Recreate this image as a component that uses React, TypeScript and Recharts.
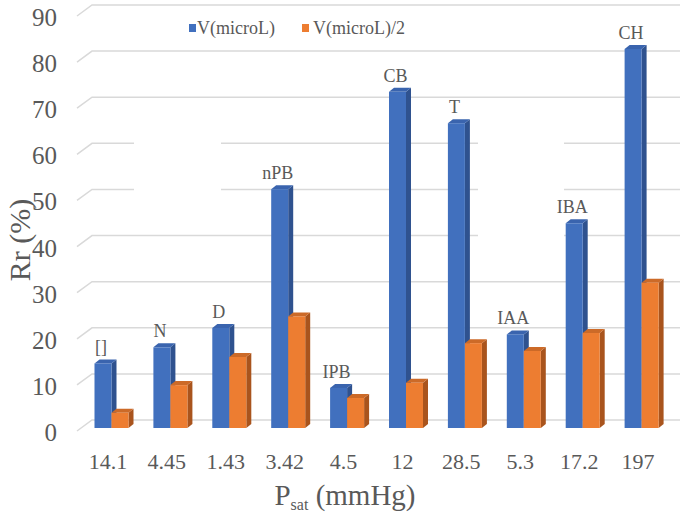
import React from 'react';
import { BarChart, Bar, XAxis, YAxis, CartesianGrid, LabelList, Legend, Label } from 'recharts';

const categories = ['14.1', '4.45', '1.43', '3.42', '4.5', '12', '28.5', '5.3', '17.2', '197'];
const compounds = ['[]', 'N', 'D', 'nPB', 'IPB', 'CB', 'T', 'IAA', 'IBA', 'CH'];
const vFull = [14, 17.5, 21.7, 51.8, 8.7, 72.9, 66.1, 20.3, 44.4, 82.2];
const vHalf = [3.3, 9.3, 15.4, 24.2, 6.5, 9.8, 18.4, 16.7, 20.6, 31.5];
const yTicks = [0, 10, 20, 30, 40, 50, 60, 70, 80, 90];
const seriesNames = ['V(microL)', 'V(microL)/2'];

const data = categories.map((c, i) => ({ psat: c, name: compounds[i], full: vFull[i], half: vHalf[i] }));

const FONT = '"Liberation Serif", "Times New Roman", serif';
const TXT = '#595959';
const GRID = '#D9D9D9';

const BLUE = { front: '#4170BE', side: '#2F528F', top: '#3A64AE' };
const ORANGE = { front: '#ED7D31', side: '#A9541D', top: '#CC6A28' };

const DX = 5;
const DY = 4;

const make3D = (c: { front: string; side: string; top: string }) => (props: any) => {
  const { x, y, width, height } = props;
  if (height == null || width == null) return <g />;
  const r = x + width;
  const b = y + height;
  return (
    <g>
      <path d={`M${r},${y} L${r + DX},${y - DY} L${r + DX},${b - DY} L${r},${b} Z`} fill={c.side} />
      <path d={`M${x},${y} L${x + DX},${y - DY} L${r + DX},${y - DY} L${r},${y} Z`} fill={c.top} />
      <rect x={x} y={y} width={width} height={height} fill={c.front} />
    </g>
  );
};

// white boxes in the original break some back-wall gridlines
const gaps: { from: number; to: number; values: number[] }[] = [
  { from: 134, to: 221, values: [50, 60] },
  { from: 478, to: 564, values: [40, 50, 60] },
];

const gridLine = (props: any) => {
  const { x1, y1, x2, index, key } = props;
  const v = yTicks[index];
  const yb = y1 - 8;
  const xs = x1 + 9.5;
  const xe = x2 + 8.5;
  let d = `M${x1 - 5.5},${y1 + 3} L${xs},${yb}`;
  gaps
    .filter((g) => g.values.includes(v))
    .forEach((g) => {
      d += ` L${g.from},${yb} M${g.to},${yb}`;
    });
  d += ` L${xe},${yb}`;
  return <path key={key ?? `g${index}`} d={d} stroke={GRID} strokeWidth={1.5} fill="none" />;
};

const YTick = (props: any) => {
  const { y, payload } = props;
  return (
    <text x={57} y={y + 4.5} textAnchor="end" dominantBaseline="central" fontSize={25} fill={TXT} fontFamily={FONT}>
      {payload.value}
    </text>
  );
};

const XTick = (props: any) => {
  const { x, y, payload } = props;
  return (
    <text x={x - 4} y={y + 25} textAnchor="middle" dominantBaseline="central" fontSize={22} fill={TXT} fontFamily={FONT}>
      {payload.value}
    </text>
  );
};

const TopLabel = (props: any) => {
  const { x, y, width, value } = props;
  return (
    <text x={x + width / 2 - 2} y={y - 10} textAnchor="middle" fontSize={18} fill={TXT} fontFamily={FONT}>
      {value}
    </text>
  );
};

const LegendContent = () => (
  <svg width={240} height={22} style={{ display: 'block' }}>
    <rect x={3} y={6} width={7} height={8} fill={BLUE.front} />
    <text x={11} y={16} fontSize={18} fill={TXT} fontFamily={FONT}>{seriesNames[0]}</text>
    <rect x={116} y={6} width={7} height={8} fill={ORANGE.front} />
    <text x={127} y={16} fontSize={18} fill={TXT} fontFamily={FONT}>{seriesNames[1]}</text>
  </svg>
);

const YTitle = () => {
  const cx = 19;
  const cy = 240;
  return (
    <text x={cx} y={cy} transform={`rotate(-90 ${cx} ${cy})`} textAnchor="middle" dominantBaseline="central" fontSize={30} fill={TXT} fontFamily={FONT}>
      Rr (%)
    </text>
  );
};

const XTitle = () => {
  const cx = 345;
  const by = 505;
  return (
    <text x={cx} y={by} textAnchor="middle" fontSize={29} fill={TXT} fontFamily={FONT}>
      <tspan>P</tspan>
      <tspan fontSize={16} dy={5}>sat</tspan>
      <tspan dy={-5}> (mmHg)</tspan>
    </text>
  );
};

export default function App() {
  return (
    <div style={{ position: 'absolute', left: 0, top: 0, width: 685, height: 520, background: '#fff' }}>
      <BarChart
        width={685}
        height={520}
        data={data}
        margin={{ top: 13, right: 13.5, bottom: 32, left: 0 }}
        barGap={0}
        barSize={17}
      >
        <CartesianGrid vertical={false} horizontal={gridLine} />
        <XAxis dataKey="psat" tickLine={false} axisLine={false} height={60} tick={<XTick />} interval={0}>
          <Label content={<XTitle />} />
        </XAxis>
        <YAxis
          domain={[0, 90]}
          ticks={yTicks}
          width={82.5}
          tickLine={false}
          axisLine={false}
          tick={<YTick />}
          interval={0}
        >
          <Label content={<YTitle />} />
        </YAxis>
        <Legend
          layout="horizontal"
          verticalAlign="middle"
          align="center"
          content={<LegendContent />}
          wrapperStyle={{ top: 18, left: 186, width: 240, height: 22 }}
        />
        <Bar dataKey="full" name={seriesNames[0]} fill={BLUE.front} shape={make3D(BLUE)} isAnimationActive={false}>
          <LabelList dataKey="name" content={<TopLabel />} />
        </Bar>
        <Bar dataKey="half" name={seriesNames[1]} fill={ORANGE.front} shape={make3D(ORANGE)} isAnimationActive={false} />
      </BarChart>
    </div>
  );
}
